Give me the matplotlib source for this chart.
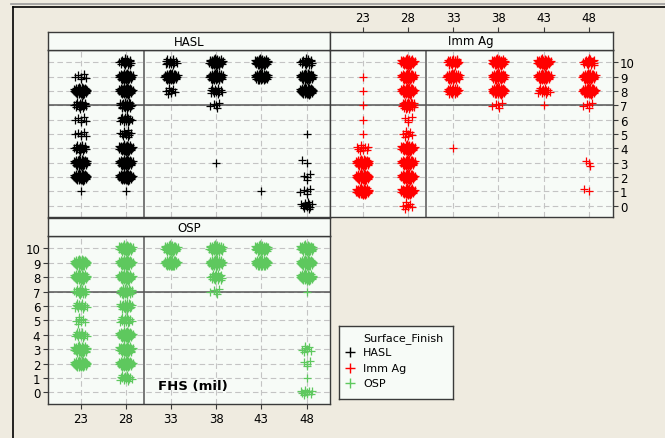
import numpy as np
import matplotlib
matplotlib.use("Agg")
import matplotlib.pyplot as plt
from matplotlib.lines import Line2D

# FHS levels (mil) on the x axis, rating 0-10 on the y axis
FHS_LEVELS = [23, 28, 33, 38, 43, 48]
RATINGS = list(range(11))

# each finish: FHS level, rating, number of boards at that cell
hasl_fhs = [23, 23, 23, 23, 23, 23, 23, 23, 23,
            28, 28, 28, 28, 28, 28, 28, 28, 28, 28,
            33, 33, 33,
            38, 38, 38, 38, 38,
            43, 43, 43,
            48, 48, 48, 48, 48, 48, 48, 48]
hasl_rating = [9, 8, 7, 6, 5, 4, 3, 2, 1,
               10, 9, 8, 7, 6, 5, 4, 3, 2, 1,
               10, 9, 8,
               10, 9, 8, 7, 3,
               10, 9, 1,
               10, 9, 8, 5, 3, 2, 1, 0]
hasl_count = [6, 45, 18, 6, 6, 18, 45, 45, 1,
              20, 45, 45, 25, 15, 12, 45, 45, 45, 1,
              15, 45, 8,
              45, 45, 15, 5, 1,
              45, 45, 1,
              20, 45, 45, 1, 2, 4, 5, 12]

immag_fhs = [23, 23, 23, 23, 23, 23, 23, 23, 23,
             28, 28, 28, 28, 28, 28, 28, 28, 28, 28, 28,
             33, 33, 33, 33,
             38, 38, 38, 38,
             43, 43, 43, 43,
             48, 48, 48, 48, 48, 48]
immag_rating = [9, 8, 7, 6, 5, 4, 3, 2, 1,
                10, 9, 8, 7, 6, 5, 4, 3, 2, 1, 0,
                10, 9, 8, 4,
                10, 9, 8, 7,
                10, 9, 8, 7,
                10, 9, 8, 7, 3, 1]
immag_count = [1, 1, 1, 1, 1, 10, 45, 45, 45,
               45, 45, 45, 30, 4, 8, 45, 45, 45, 45, 8,
               25, 45, 25, 1,
               45, 45, 45, 5,
               45, 45, 15, 1,
               20, 45, 45, 5, 3, 2]

osp_fhs = [23, 23, 23, 23, 23, 23, 23, 23,
           28, 28, 28, 28, 28, 28, 28, 28, 28, 28,
           33, 33,
           38, 38, 38, 38,
           43, 43,
           48, 48, 48, 48, 48, 48, 48, 48]
osp_rating = [9, 8, 7, 6, 5, 4, 3, 2,
              10, 9, 8, 7, 6, 5, 4, 3, 2, 1,
              10, 9,
              10, 9, 8, 7,
              10, 9,
              10, 9, 8, 7, 3, 2, 1, 0]
osp_count = [45, 45, 20, 15, 8, 15, 45, 45,
             45, 45, 45, 30, 25, 15, 45, 45, 45, 15,
             45, 45,
             45, 45, 20, 5,
             45, 45,
             45, 45, 45, 1, 8, 4, 1, 10]

FINISHES = ["HASL", "Imm Ag", "OSP"]
COLORS = {"HASL": "black", "Imm Ag": "#ff0000", "OSP": "#5ec85e"}

W, H = 665, 439
BG = "#efebe0"
FACE = "#f7fbf7"
EDGE = "#3a3a3a"
FS = 8.5


def rect(x0, y0, x1, y1):
    # pixel box (top-left origin) -> figure fraction
    return [x0 / W, 1 - y1 / H, (x1 - x0) / W, (y1 - y0) / H]


def spread_cells(fhs, rating, count):
    # lay the boards of each cell out in a small sunflower so they don't overlap
    xs, ys = [], []
    for xc, yc, n in zip(fhs, rating, count):
        i = np.arange(n)
        r = np.sqrt(i / max(n - 1, 1)) if n > 1 else np.zeros(1)
        th = i * 2.39996
        k = 0.85 + 0.15 * min(1.0, n / 40)
        xs.append(xc + 0.8 * k * r * np.cos(th))
        ys.append(yc + 0.28 * k * r * np.sin(th))
    return np.concatenate(xs), np.concatenate(ys)


def style_panel(ax):
    ax.set_facecolor(FACE)
    ax.set_xlim(19.4, 50.6)
    ax.set_ylim(-0.8, 10.85)
    ax.set_xticks(FHS_LEVELS)
    ax.set_yticks(RATINGS)
    ax.grid(True, color="#c4c4c4", linestyle=(0, (5, 3)), linewidth=0.8)
    ax.set_axisbelow(True)
    ax.axhline(7, color="#555555", lw=1.1, zorder=2)
    ax.axvline(30, color="#555555", lw=1.1, zorder=2)
    for s in ax.spines.values():
        s.set_color(EDGE)
        s.set_linewidth(1.0)
    ax.tick_params(length=3.5, width=0.8, color=EDGE, labelsize=FS, pad=2,
                   bottom=False, left=False, labelbottom=False, labelleft=False)


def header(box, title, top_labels=False):
    hx = fig.add_axes(rect(*box))
    hx.set_facecolor(FACE)
    hx.set_xlim(19.4, 50.6)
    hx.set_ylim(0, 1)
    hx.set_yticks([])
    for s in hx.spines.values():
        s.set_color(EDGE)
        s.set_linewidth(1.0)
    hx.text(35, 0.5, title, ha="center", va="center", fontsize=FS)
    if top_labels:
        hx.set_xticks(FHS_LEVELS)
        hx.tick_params(axis="x", bottom=False, labelbottom=False, top=True,
                       labeltop=True, length=3.5, width=0.8, color=EDGE,
                       labelsize=FS, pad=2)
    else:
        hx.set_xticks([])
    return hx


fig = plt.figure(figsize=(W / 100, H / 100), dpi=100)
fig.patch.set_facecolor(BG)

# window frame lines
fig.add_artist(Line2D([11 / W, 1], [1 - 5 / H, 1 - 5 / H], color="#9a9a9a", lw=1.2))
fig.add_artist(Line2D([13 / W, 1], [1 - 7.5 / H, 1 - 7.5 / H], color="black", lw=1.2))
fig.add_artist(Line2D([13 / W, 13 / W], [0, 1 - 7.5 / H], color="black", lw=1.2))

panels = {
    "HASL": ((48, 51, 330, 218), (48, 33, 330, 51), (hasl_fhs, hasl_rating, hasl_count)),
    "Imm Ag": ((330, 51, 612.5, 218), (330, 33, 612.5, 51), (immag_fhs, immag_rating, immag_count)),
    "OSP": ((48, 237, 330, 405), (48, 219, 330, 237), (osp_fhs, osp_rating, osp_count)),
}

for name in FINISHES:
    box, hbox, cells = panels[name]
    ax = fig.add_axes(rect(*box))
    style_panel(ax)
    x, y = spread_cells(*cells)
    ax.scatter(x, y, marker="+", s=28, linewidths=0.9, color=COLORS[name], zorder=3)
    header(hbox, name, top_labels=(name == "Imm Ag"))
    if name == "Imm Ag":
        ax.tick_params(right=True, labelright=True)
    if name == "OSP":
        ax.tick_params(left=True, labelleft=True, bottom=True, labelbottom=True)
        ax.text(35.4, 0.5, "FHS (mil)", ha="center", va="center",
                fontsize=9.5, fontweight="bold", zorder=4)

# legend box
lg = fig.add_axes(rect(339, 327, 453, 400))
lg.set_facecolor(FACE)
lg.set_xlim(0, 114)
lg.set_ylim(73, 0)
lg.set_xticks([])
lg.set_yticks([])
for s in lg.spines.values():
    s.set_color(EDGE)
    s.set_linewidth(1.0)
lg.text(24, 12, "Surface_Finish", ha="left", va="center", fontsize=8)
for row, name in zip([26, 42, 57], FINISHES):
    lg.plot([11], [row], marker="+", ms=7, mew=1.0, color=COLORS[name])
    lg.text(24, row, name, ha="left", va="center", fontsize=8)

fig.savefig("out.png", dpi=100, facecolor=BG)
